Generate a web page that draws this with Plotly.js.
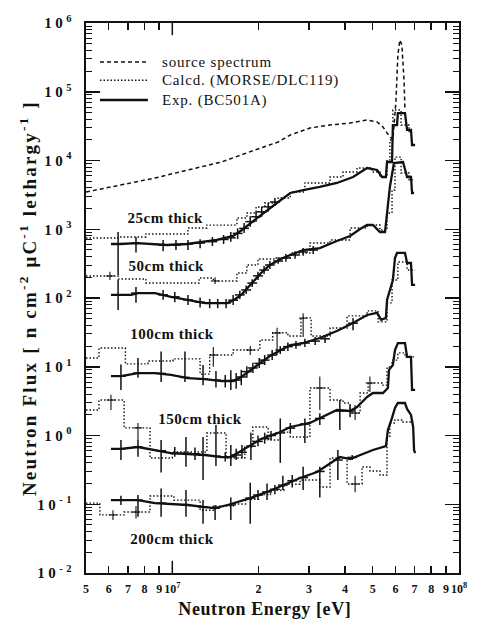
<!DOCTYPE html>
<html><head><meta charset="utf-8">
<script src="https://cdn.plot.ly/plotly-3.0.1.min.js"></script>
<style>html,body{margin:0;padding:0;background:#fff}#chart{width:477px;height:622px}</style>
</head><body><div id="chart"></div>
<script>
// ---------- DATA (energy in eV, flux in n cm^-2 uC^-1 lethargy^-1) ----------
const srcE = [5.0e6, 6.62e6, 8.70e6, 1.134e7, 1.485e7, 1.94e7, 2.34e7, 2.58e7, 3.02e7, 3.55e7, 4.17e7, 4.78e7, 5.18e7, 5.43e7, 5.61e7, 5.88e7, 6.03e7, 6.12e7, 6.22e7, 6.32e7, 6.43e7, 6.48e7];
const srcF = [3480, 4400, 5560, 7280, 9510, 14200, 18600, 23500, 29700, 32800, 35100, 38800, 36300, 30700, 25100, 19900, 75900, 343000, 566000, 479000, 148000, 54300];

const exp25E = [6.11e6, 6.57e6, 7.53e6, 8.36e6, 9.59e6, 1.125e7, 1.30e7, 1.43e7, 1.63e7, 1.75e7, 1.94e7, 2.10e7, 2.34e7, 2.58e7, 2.86e7, 3.27e7, 3.75e7, 4.27e7, 4.78e7, 5.18e7, 5.39e7, 5.56e7, 5.61e7, 5.84e7, 5.88e7, 6.08e7, 6.12e7, 6.48e7, 6.59e7, 6.80e7, 6.86e7, 7.03e7];
const exp25F = [610, 610, 630, 610, 590, 610, 653, 698, 798, 975, 1365, 1780, 2490, 3370, 3720, 4120, 4710, 5750, 7780, 7280, 5750, 5750, 9510, 9510, 32800, 32800, 49000, 49000, 27800, 27800, 16800, 16800];
const calc25E = [5.0e6, 6.47e6, 8.09e6, 1.134e7, 1.32e7, 1.68e7, 1.82e7, 1.96e7, 2.10e7, 2.34e7, 2.58e7, 2.90e7, 3.55e7, 3.94e7, 4.41e7, 4.97e7, 5.30e7, 5.61e7, 5.74e7, 5.88e7, 6.28e7, 6.70e7, 6.97e7];
const calc25F = [747, 771, 853, 1042, 1150, 1458, 1722, 2110, 2410, 2850, 3480, 4710, 5750, 6810, 7780, 6810, 5750, 10200, 19900, 54300, 32800, 25100, 25100];

const exp50E = [6.11e6, 7.18e6, 7.59e6, 8.70e6, 9.90e6, 1.134e7, 1.30e7, 1.56e7, 1.66e7, 1.75e7, 1.91e7, 2.04e7, 2.19e7, 2.43e7, 2.86e7, 3.27e7, 3.75e7, 4.17e7, 4.52e7, 4.78e7, 5.01e7, 5.30e7, 5.52e7, 5.61e7, 5.74e7, 5.93e7, 6.38e7, 6.59e7, 6.80e7, 6.86e7, 6.97e7];
const exp50F = [111, 111, 118, 118, 104, 93.5, 84.5, 84.5, 96.6, 114, 171, 231, 302, 382, 499, 533, 675, 798, 1009, 1153, 1153, 912, 912, 1905, 4120, 9200, 9510, 5750, 5750, 3370, 3370];
const calc50E = [5.0e6, 6.47e6, 8.09e6, 1.24e7, 1.39e7, 1.68e7, 1.82e7, 1.99e7, 2.28e7, 2.58e7, 3.02e7, 3.55e7, 4.17e7, 4.78e7, 5.30e7, 5.61e7, 5.84e7, 5.98e7, 6.28e7, 6.70e7, 6.97e7];
const calc50F = [209, 189, 165, 195, 177, 231, 302, 369, 382, 452, 631, 698, 1042, 1153, 975, 1722, 3720, 11200, 6580, 5200, 5200];

const exp100E = [6.11e6, 6.62e6, 7.59e6, 8.70e6, 9.90e6, 1.134e7, 1.30e7, 1.485e7, 1.63e7, 1.74e7, 1.94e7, 2.19e7, 2.58e7, 2.86e7, 3.27e7, 3.75e7, 4.27e7, 4.78e7, 5.18e7, 5.35e7, 5.56e7, 5.61e7, 5.88e7, 5.98e7, 6.08e7, 6.48e7, 6.59e7, 6.80e7, 6.86e7, 7.03e7];
const exp100F = [7.3, 7.3, 8.1, 8.1, 7.6, 6.85, 6.6, 6.2, 6.2, 7.1, 9.9, 14.3, 20.7, 22.1, 26.2, 33.1, 43.3, 56.6, 60.9, 48, 51.4, 93.5, 183, 382, 452, 452, 323, 323, 155, 155];
const calc100E = [5.0e6, 5.55e6, 6.86e6, 8.22e6, 1.005e7, 1.25e7, 1.35e7, 1.63e7, 2.02e7, 2.24e7, 2.53e7, 2.81e7, 3.05e7, 3.55e7, 4.07e7, 4.78e7, 5.22e7, 5.61e7, 5.84e7, 6.12e7, 6.59e7, 7.03e7];
const calc100F = [13.4, 18.7, 11.0, 12.1, 13.0, 7.8, 14.8, 17.5, 24.5, 31.3, 28.0, 51.4, 28.0, 36.6, 55, 65, 45, 85, 183, 334, 255, 255];

const exp150E = [6.11e6, 6.62e6, 7.59e6, 8.70e6, 9.90e6, 1.134e7, 1.30e7, 1.485e7, 1.59e7, 1.69e7, 1.84e7, 2.04e7, 2.34e7, 2.58e7, 3.02e7, 3.36e7, 3.75e7, 4.17e7, 4.41e7, 4.78e7, 5.01e7, 5.43e7, 5.65e7, 5.70e7, 5.88e7, 5.98e7, 6.12e7, 6.48e7, 6.59e7, 6.80e7, 6.86e7, 7.03e7];
const exp150F = [0.637, 0.637, 0.68, 0.615, 0.556, 0.538, 0.52, 0.486, 0.486, 0.556, 0.68, 0.89, 1.09, 1.33, 1.52, 1.86, 2.35, 2.27, 2.6, 3.63, 4.15, 4.15, 4.9, 9.0, 10.6, 17.5, 22.1, 22.1, 13.9, 13.9, 4.6, 4.6];
const calc150E = [5.0e6, 5.55e6, 6.79e6, 8.36e6, 1.0e7, 1.32e7, 1.54e7, 1.79e7, 1.91e7, 2.16e7, 2.38e7, 2.58e7, 3.02e7, 3.55e7, 3.94e7, 4.17e7, 4.52e7, 4.82e7, 5.39e7, 5.61e7, 5.84e7, 6.12e7, 6.48e7, 7.03e7];
const calc150F = [2.35, 3.28, 1.29, 0.47, 0.575, 1.09, 0.47, 0.68, 1.33, 0.86, 1.12, 0.95, 4.9, 3.28, 2.97, 2.12, 4.15, 5.8, 5.4, 9.9, 12.5, 15.9, 13.9, 13.9];

const exp200E = [6.11e6, 6.62e6, 7.59e6, 8.70e6, 9.90e6, 1.134e7, 1.30e7, 1.41e7, 1.56e7, 1.69e7, 1.87e7, 2.14e7, 2.43e7, 2.79e7, 3.20e7, 3.64e7, 3.84e7, 4.17e7, 4.52e7, 5.01e7, 5.56e7, 5.65e7, 5.84e7, 5.98e7, 6.12e7, 6.48e7, 6.59e7, 6.80e7, 6.92e7, 6.97e7, 7.03e7];
const exp200F = [0.115, 0.115, 0.115, 0.104, 0.101, 0.0975, 0.091, 0.088, 0.0975, 0.108, 0.123, 0.151, 0.19, 0.241, 0.294, 0.412, 0.487, 0.455, 0.52, 0.615, 0.703, 1.2, 1.8, 2.51, 2.97, 2.97, 2.43, 1.99, 1.33, 0.615, 0.556];
const calc200E = [5.0e6, 5.59e6, 6.79e6, 8.36e6, 1.013e7, 1.25e7, 1.39e7, 1.63e7, 1.80e7, 2.0e7, 2.2e7, 2.45e7, 2.79e7, 3.27e7, 3.55e7, 4.07e7, 4.59e7, 4.89e7, 5.30e7, 5.61e7, 5.74e7, 5.98e7, 6.38e7, 6.92e7];
const calc200F = [0.104, 0.07, 0.077, 0.132, 0.115, 0.082, 0.094, 0.101, 0.118, 0.138, 0.16, 0.195, 0.225, 0.178, 0.47, 0.197, 0.348, 0.305, 0.266, 0.95, 1.52, 1.68, 1.57, 1.57];

// error bars of the measurement: energy, centre, upper end, lower end
const bar25E = [6.47e6, 7.47e6, 9.29e6, 1.03e7, 1.134e7, 1.25e7, 1.38e7, 1.51e7, 1.60e7, 1.69e7, 1.78e7, 1.87e7, 1.96e7, 2.05e7, 2.16e7, 2.28e7];
const bar25F = [610, 630, 590, 590, 610, 630, 660, 710, 750, 870, 1030, 1290, 1520, 1790, 2120, 2490];
const bar25Hi = [912, 771, 698, 698, 698, 715, 771, 824, 912, 1030, 1230, 1540, 1790, 2120, 2420, 2850];
const bar25Lo = [216, 460, 480, 499, 499, 530, 570, 610, 660, 720, 880, 1090, 1290, 1520, 1790, 2180];

const bar50E = [6.47e6, 7.47e6, 9.29e6, 1.02e7, 1.134e7, 1.25e7, 1.35e7, 1.44e7, 1.54e7, 1.63e7, 1.72e7, 1.81e7, 1.90e7, 1.99e7, 2.09e7, 2.19e7, 2.34e7, 2.49e7, 2.68e7, 2.86e7, 3.10e7];
const bar50F = [111, 118, 111, 104, 94, 87, 85, 85, 85, 93, 111, 131, 165, 210, 255, 302, 345, 382, 422, 467, 499];
const bar50Hi = [183, 145, 131, 122, 111, 102, 97, 97, 97, 111, 127, 152, 188, 240, 292, 345, 392, 437, 480, 533, 570];
const bar50Lo = [67, 85, 94, 87, 79, 73, 71, 71, 71, 79, 97, 114, 145, 183, 224, 265, 315, 337, 372, 410, 437];

const bar100E = [6.62e6, 7.59e6, 9.14e6, 1.107e7, 1.28e7, 1.42e7, 1.53e7, 1.60e7, 1.67e7, 1.74e7, 1.82e7, 1.91e7, 2.01e7, 2.10e7, 2.23e7, 2.38e7, 2.53e7, 2.70e7, 2.90e7, 3.15e7, 3.41e7, 4.27e7];
const bar100F = [7.3, 8.1, 8.0, 7.0, 6.6, 6.4, 6.2, 6.2, 6.4, 7.1, 8.5, 9.6, 11.2, 12.5, 14.8, 17.5, 19.6, 20.7, 22.1, 23.6, 25.5, 43];
const bar100Hi = [10.8, 13.4, 16.6, 16.6, 10.6, 8.7, 7.6, 8.9, 8.1, 9.0, 10.2, 11.4, 13.4, 14.8, 17.5, 20.0, 22.5, 23.6, 25.5, 27.0, 29.0, 51];
const bar100Lo = [4.6, 6.9, 6.0, 6.0, 5.4, 5.0, 5.0, 4.6, 4.8, 5.4, 6.9, 8.1, 9.6, 10.6, 12.5, 15.3, 17.0, 18.2, 19.3, 20.7, 22.1, 34];

const bar150E = [6.62e6, 7.59e6, 9.14e6, 1.02e7, 1.116e7, 1.2e7, 1.28e7, 1.42e7, 1.53e7, 1.60e7, 1.67e7, 1.75e7, 1.88e7, 1.99e7, 2.10e7, 2.21e7, 2.38e7, 2.58e7, 2.90e7, 3.27e7, 3.84e7, 4.17e7];
const bar150F = [0.64, 0.68, 0.6, 0.55, 0.55, 0.54, 0.52, 0.5, 0.49, 0.49, 0.52, 0.57, 0.7, 0.82, 0.9, 1.0, 1.09, 1.28, 1.47, 1.77, 2.27, 2.27];
const bar150Hi = [0.86, 0.86, 0.86, 0.68, 0.95, 0.67, 0.95, 1.42, 0.57, 0.73, 0.64, 0.73, 1.1, 1.0, 1.1, 1.16, 1.77, 1.52, 1.77, 2.1, 3.28, 2.78];
const bar150Lo = [0.44, 0.49, 0.29, 0.49, 0.35, 0.44, 0.225, 0.36, 0.42, 0.36, 0.44, 0.47, 0.44, 0.7, 0.76, 0.86, 0.4, 1.09, 0.78, 1.42, 1.2, 1.85];

const bar200E = [6.62e6, 7.59e6, 9.14e6, 1.116e7, 1.28e7, 1.41e7, 1.60e7, 1.87e7, 1.99e7, 2.14e7, 2.28e7, 2.43e7, 2.62e7, 2.86e7, 3.27e7, 3.78e7, 4.24e7];
const bar200F = [0.115, 0.115, 0.104, 0.0975, 0.091, 0.088, 0.0975, 0.123, 0.136, 0.151, 0.165, 0.19, 0.22, 0.244, 0.3, 0.44, 0.48];
const bar200Hi = [0.133, 0.136, 0.17, 0.161, 0.115, 0.0975, 0.125, 0.205, 0.161, 0.2, 0.19, 0.26, 0.266, 0.35, 0.35, 0.615, 0.52];
const bar200Lo = [0.0975, 0.066, 0.066, 0.066, 0.052, 0.059, 0.059, 0.052, 0.115, 0.115, 0.14, 0.161, 0.175, 0.161, 0.125, 0.225, 0.44];

// error bars on the calculated histograms
const cbarE = [6.06e6, 1.41e7, 1.39e7, 1.87e7, 2.32e7, 2.86e7, 6.11e6, 7.59e6, 3.27e7, 4.34e7, 4.89e7, 6.21e6, 7.47e6, 4.34e7];
const cbarF = [209, 177, 14.8, 17.5, 31, 51, 3.28, 1.29, 4.9, 2.12, 5.8, 0.07, 0.077, 0.197];
const cbarHi = [240, 200, 19.3, 20.0, 37, 60, 3.9, 1.52, 7.2, 2.78, 7.2, 0.082, 0.094, 0.26];
const cbarLo = [183, 160, 10.0, 14.8, 14.8, 27, 2.35, 0.86, 2.35, 1.68, 4.3, 0.059, 0.062, 0.15];

const xTickVals = [5e6, 6e6, 7e6, 8e6, 9e6, 1e7, 2e7, 3e7, 4e7, 5e7, 6e7, 7e7, 8e7, 9e7, 1e8];
const xTickText = ['5', '6', '7', '8', '9', '10<sup>7</sup>', '2', '3', '4', '5', '6', '7', '8', '9', '10<sup>8</sup>'];
const yTickVals = [1e-2, 1e-1, 1e0, 1e1, 1e2, 1e3, 1e4, 1e5, 1e6];
const yTickText = ['10<sup>-2</sup>', '10<sup>-1</sup>', '10<sup>0</sup>', '10<sup>1</sup>', '10<sup>2</sup>', '10<sup>3</sup>', '10<sup>4</sup>', '10<sup>5</sup>', '10<sup>6</sup>'];
const thickLabels = ['25cm thick', '50cm thick', '100cm thick', '150cm thick', '200cm thick'];
const legendNames = ['source spectrum', 'Calcd. (MORSE/DLC119)', 'Exp. (BC501A)'];
const yTitle = 'Neutron Flux [ n cm<sup>-2</sup> μC<sup>-1</sup> lethargy<sup>-1</sup> ]';
const xTitle = 'Neutron Energy [eV]';

// ---------- STYLE ----------
const FONT = 'Liberation Serif, Times New Roman, serif';
const INK = '#111';
const STYLES = {
  src: {color: INK, width: 1.5, dash: '4px,3px'},
  calc: {color: INK, width: 1.4, dash: '1.5px,2px', shape: 'hv'},
  exp: {color: INK, width: 2.3}
};
const yMinor = [];
for (let p = -2; p < 6; p++) for (let m = 2; m <= 9; m++) yMinor.push(m * Math.pow(10, p));

const traces = [];
function line(E, F, kind) {
  traces.push({x: E, y: F, type: 'scatter', mode: 'lines', line: STYLES[kind],
    showlegend: false, hoverinfo: 'skip'});
}
function bars(E, F, Hi, Lo, w, size) {
  const bx = [], by = [];
  E.forEach((e, i) => { bx.push(e, e, null); by.push(Lo[i], Hi[i], null); });
  traces.push({x: bx, y: by, type: 'scatter', mode: 'lines', line: {color: INK, width: w},
    showlegend: false, hoverinfo: 'skip'});
  traces.push({x: E, y: F, type: 'scatter', mode: 'markers', showlegend: false, hoverinfo: 'skip',
    marker: {symbol: 'line-ew', size: size, color: INK, line: {color: INK, width: w}}});
}

line(srcE, srcF, 'src');
line(calc25E, calc25F, 'calc'); line(exp25E, exp25F, 'exp');
line(calc50E, calc50F, 'calc'); line(exp50E, exp50F, 'exp');
line(calc100E, calc100F, 'calc'); line(exp100E, exp100F, 'exp');
line(calc150E, calc150F, 'calc'); line(exp150E, exp150F, 'exp');
line(calc200E, calc200F, 'calc'); line(exp200E, exp200F, 'exp');
bars(bar25E, bar25F, bar25Hi, bar25Lo, 1.5, 7);
bars(bar50E, bar50F, bar50Hi, bar50Lo, 1.5, 7);
bars(bar100E, bar100F, bar100Hi, bar100Lo, 1.5, 7);
bars(bar150E, bar150F, bar150Hi, bar150Lo, 1.5, 7);
bars(bar200E, bar200F, bar200Hi, bar200Lo, 1.5, 7);
bars(cbarE, cbarF, cbarHi, cbarLo, 1.1, 6);

const xMin = Math.log10(5e6), xMax = 8;
const frac7 = (7 - xMin) / (xMax - xMin);
const labelPos = [[0.214, 0.645], [0.217, 0.558], [0.233, 0.435], [0.306, 0.28], [0.231, 0.062]];
// hand-drawn legend inside the frame (paper fractions)
const legKinds = ['src', 'calc', 'exp'];
const legY = [0.929, 0.896, 0.86];
const legX0 = 0.0375, legX1 = 0.166, legTextX = 0.198;

const shapes = [
  {type: 'line', xref: 'paper', yref: 'paper', x0: frac7, x1: frac7, y0: 0, y1: 0.022, line: {color: INK, width: 1.5}},
  {type: 'line', xref: 'paper', yref: 'paper', x0: frac7, x1: frac7, y0: 0.978, y1: 1, line: {color: INK, width: 1.5}}
];
legKinds.forEach((k, i) => shapes.push({type: 'line', xref: 'paper', yref: 'paper',
  x0: legX0, x1: legX1, y0: legY[i], y1: legY[i],
  line: {color: INK, width: STYLES[k].width, dash: STYLES[k].dash || 'solid'}}));

const annotations = thickLabels.map((t, i) => ({
  text: t, xref: 'paper', yref: 'paper', x: labelPos[i][0], y: labelPos[i][1],
  xanchor: 'center', yanchor: 'middle', showarrow: false,
  font: {family: FONT, size: 15, color: INK, weight: 'bold'}
}));
legendNames.forEach((t, i) => annotations.push({text: t, xref: 'paper', yref: 'paper',
  x: legTextX, y: legY[i], xanchor: 'left', yanchor: 'middle', align: 'left', showarrow: false,
  font: {family: FONT, size: 15, color: INK}}));
annotations.push(
  {text: yTitle, xref: 'paper', yref: 'paper', x: -0.155, y: 0.5, xanchor: 'center', yanchor: 'middle',
   textangle: -90, showarrow: false, font: {family: FONT, size: 19, color: INK, weight: 'bold'}},
  {text: xTitle, xref: 'paper', yref: 'paper', x: 0.48, y: -0.066, xanchor: 'center', yanchor: 'middle',
   showarrow: false, font: {family: FONT, size: 18, color: INK, weight: 'bold'}}
);

const axisCommon = {
  showline: true, linewidth: 2, linecolor: INK, mirror: 'ticks', ticks: 'inside',
  tickcolor: INK, tickwidth: 1.5, showgrid: false, zeroline: false, tickmode: 'array'
};
const layout = {
  width: 477, height: 622,
  margin: {l: 86, r: 18, t: 23, b: 49},
  paper_bgcolor: '#fff', plot_bgcolor: '#fff',
  showlegend: false,
  xaxis: Object.assign({}, axisCommon, {
    type: 'log', range: [xMin, xMax], tickvals: xTickVals, ticktext: xTickText,
    ticklen: 7, tickangle: 0, ticklabelstandoff: 4,
    tickfont: {family: FONT, size: 12, color: INK, weight: 'bold'}
  }),
  yaxis: Object.assign({}, axisCommon, {
    type: 'log', range: [-2, 6], tickvals: yTickVals, ticktext: yTickText,
    ticklen: 14, ticklabelstandoff: 6,
    tickfont: {family: FONT, size: 15, color: INK, weight: 'bold'},
    minor: {tickmode: 'array', tickvals: yMinor, ticks: 'inside', ticklen: 6, tickcolor: INK, tickwidth: 1, showgrid: false}
  }),
  shapes: shapes,
  annotations: annotations
};
Plotly.newPlot('chart', traces, layout, {staticPlot: true, displayModeBar: false}).then(gd => {
  // widen letter spacing to mimic the scanned typography
  gd.querySelectorAll('.annotation-text').forEach(el => {
    const t = el.textContent;
    if (t.indexOf('Neutron Flux') === 0) el.style.letterSpacing = '2.2px';
    else if (t === xTitle) el.style.letterSpacing = '0.6px';
    else if (legendNames.indexOf(t) >= 0) el.style.letterSpacing = '0.8px';
    else el.style.letterSpacing = '0.5px';
  });
  gd.querySelectorAll('.ytick text').forEach(el => { el.style.letterSpacing = '3.5px'; });
});
</script></body></html>
